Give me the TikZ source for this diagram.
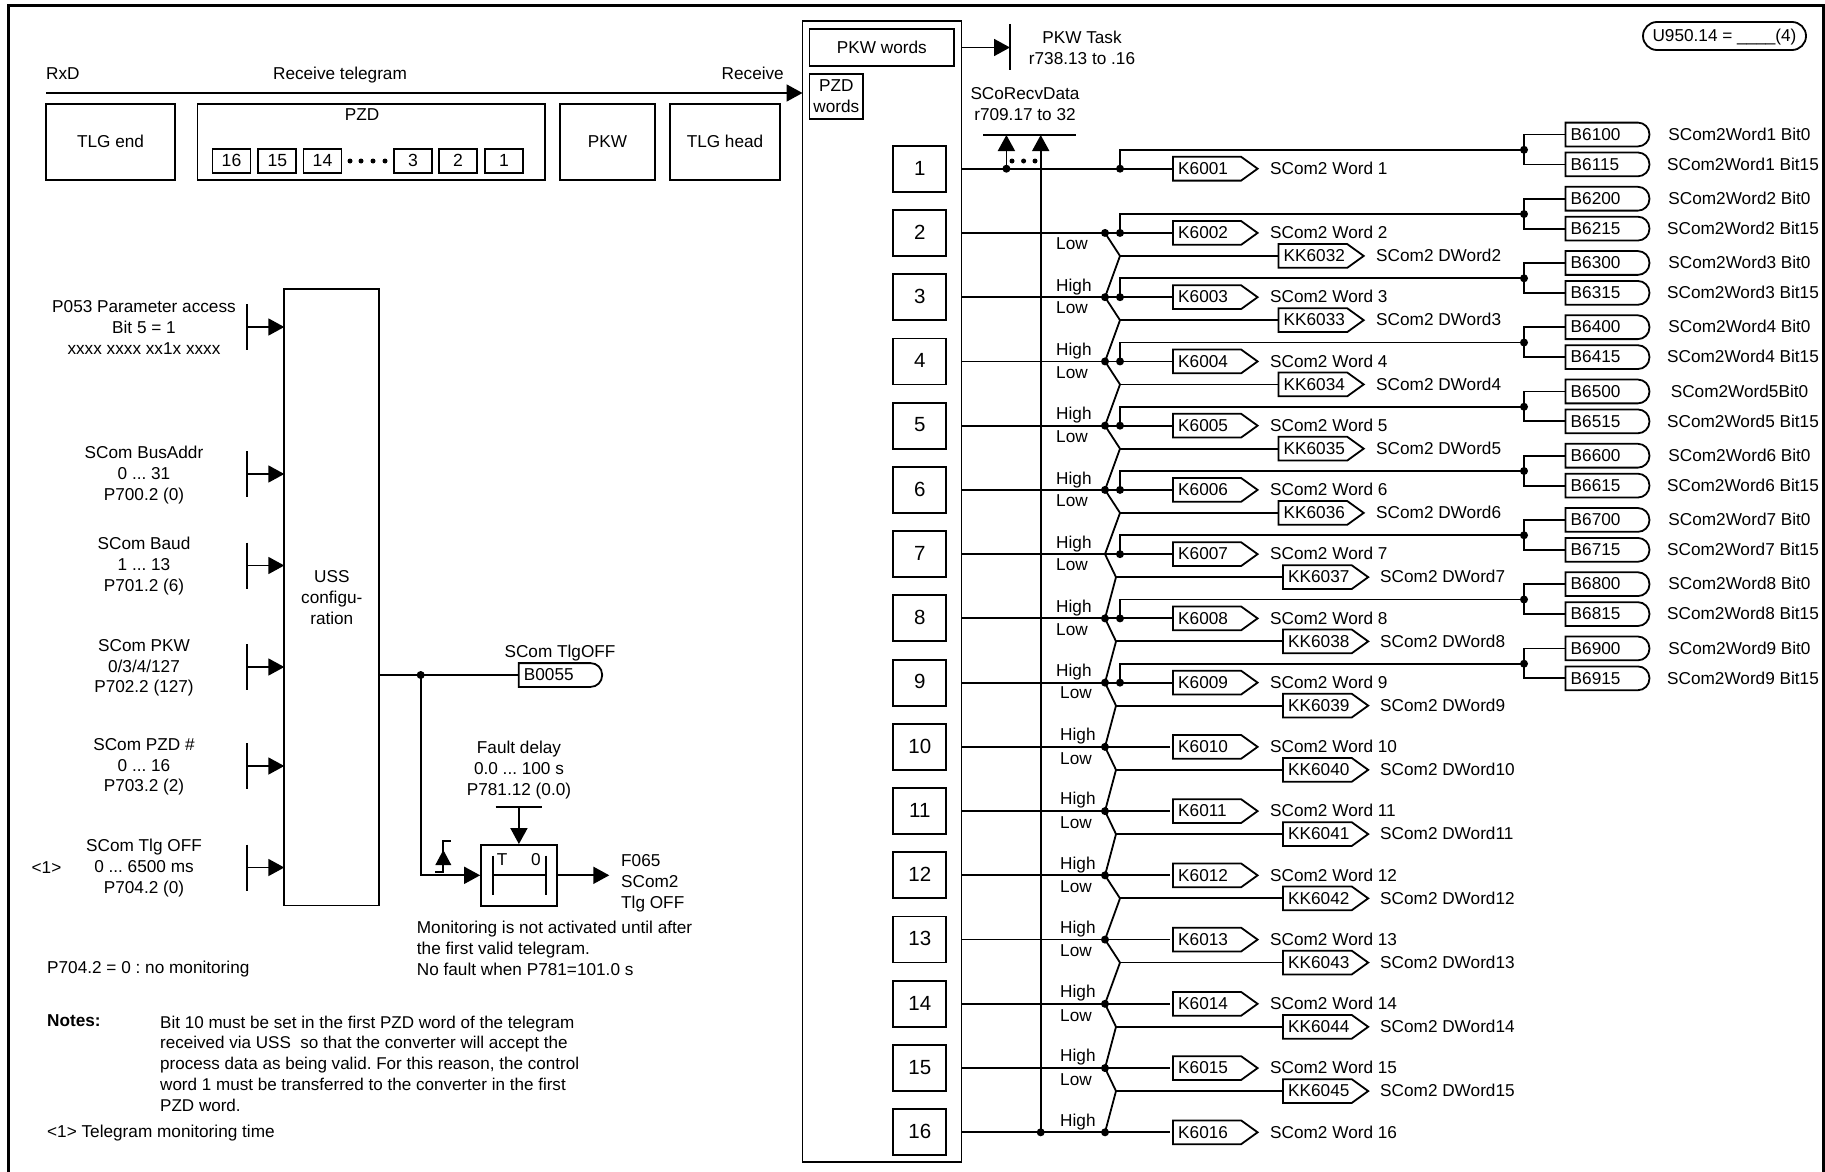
\documentclass[tikz,border=0pt]{standalone}
\usepackage{fontspec}
\setmainfont{Liberation Sans}
\usetikzlibrary{arrows.meta}
\newcommand{\fsz}{\fontsize{17.2}{20.9}\selectfont\frenchspacing}
\tikzset{
  ln/.style={line width=1.8pt,line join=miter},
  arr/.style={ln,-{Triangle[length=16pt,width=17pt]}},
  txt/.style={font=\fsz,inner sep=0pt,text height=11.4pt,text depth=0pt},
  lefttxt/.style={txt,anchor=west},
  ml/.style={font=\fsz,inner sep=0pt,align=center,yshift=-0.8pt},
  mll/.style={font=\fsz,inner sep=0pt,align=left,anchor=west,yshift=-1.2pt},
  boxn/.style={draw,ln,font=\fsz,inner sep=0pt,text height=11.4pt,text depth=0pt},
  rowbox/.style={draw,ln,font=\fontsize{20.5}{24}\selectfont,inner sep=0pt,minimum width=53pt,minimum height=46pt,text height=12.6pt,text depth=0pt},
  smallbox/.style={boxn,minimum width=38pt,minimum height=24pt,font=\fontsize{17.6}{20}\selectfont},
  tagn/.style={font=\fsz,inner sep=0pt,anchor=west,minimum height=23.4pt,text height=11.4pt,text depth=0pt,align=left},
  dot/.style={circle,fill=black,inner sep=0pt,minimum size=8pt},
  sdot/.style={circle,fill=black,inner sep=0pt,minimum size=5pt},
}
\newcommand{\KTag}[5]{% name, x, y, text, shoulder width
  \node[tagn,minimum width=#5pt,text width=#5pt,align=left] (#1) at (#2,#3) {\hspace*{5pt}#4};
  \draw[ln] (#1.south west) -- (#1.north west) -- (#1.north east) -- ([xshift=16.5pt]#1.east) -- (#1.south east) -- cycle;
}
\newcommand{\BTag}[5]{% name, x, y, text, width
  \node[tagn,minimum width=#5pt,text width=#5pt,align=left] (#1) at (#2,#3) {\hspace*{5pt}#4};
  \draw[ln] (#1.south west) -- (#1.north west) [rounded corners=11.5pt] -- (#1.north east) -- (#1.south east) [sharp corners] -- (#1.south west) -- cycle;
}
\begin{document}
\begin{tikzpicture}[x=1pt,y=-1pt]
\useasboundingbox (0,0) rectangle (1825,1172);
% frame
\draw[line width=3pt] (8.3,1172) -- (8.3,6) -- (1823.5,6) -- (1823.5,1172);

% telegram
\node[lefttxt] (rxd) at (46,74) {RxD};
\node[txt] (rcvt) at (340,74) {Receive telegram};
\node[txt,anchor=east] (rcv) at (784,74) {Receive};
\node[boxn,minimum width=129pt,minimum height=76pt] (tlgend) at (110.5,142) {TLG end};
\node[boxn,minimum width=347.5pt,minimum height=76pt] (pzd) at (371.2,142) {};
\node[txt] (pzdt) at (362,115) {PZD};
\node[boxn,minimum width=95pt,minimum height=76pt] (pkw) at (607.5,142) {PKW};
\node[boxn,minimum width=110pt,minimum height=76pt] (tlghead) at (725,142) {TLG head};
\node[smallbox] (s16) at (231.5,161) {16};
\node[smallbox] (s15) at (277.3,161) {15};
\node[smallbox] (s14) at (322.5,161) {14};
\node[smallbox] (s3) at (413,161) {3};
\node[smallbox] (s2) at (458,161) {2};
\node[smallbox] (s1) at (504,161) {1};
\foreach \x/\n in {350/a,361/b,373/c,385/d} \node[sdot] (sd\n) at (\x,161) {};

% big box
\node[draw,ln,inner sep=0pt,minimum width=159pt,minimum height=1141pt] (big) at (882,591.5) {};
\node[boxn,minimum width=144.5pt,minimum height=37pt] (pkww) at (881.8,47.5) {PKW words};
\node[draw,ln,font=\fsz,inner sep=0pt,minimum width=53.5pt,minimum height=45pt,align=center] (pzdw) at (836.3,96.5) {PZD\\words};
\coordinate (rstart) at (46,93);
\coordinate (rend) at (802.5,93);
\draw[arr] (rstart) -- (rend);

% PKW task
\coordinate (pkwbar1) at (1010,24);
\coordinate (pkwbar2) at (1010,70);
\coordinate (pkwout) at (961.5,47.5);
\coordinate (pkwtip) at (1010,47.5);
\draw[ln] (pkwbar1) -- (pkwbar2);
\draw[arr] (pkwout) -- (pkwtip);
\node[ml] (pkwtask) at (1082,47) {PKW Task\\r738.13 to .16};
\node[ml] (scorecv) at (1025,103.5) {SCoRecvData\\r709.17 to 32};
\coordinate (bar1) at (983,135);
\coordinate (bar2) at (1076,135);
\coordinate (bara) at (1006.4,135);
\coordinate (barb) at (1040.7,135);
\draw[ln] (bar1) -- (bar2);
\foreach \x/\n in {1012/a,1023.6/b,1035/c} \node[sdot] (bd\n) at (\x,161) {};

% oval
\node[draw,ln,rounded corners=14pt,font=\fsz,inner sep=0pt,minimum width=163pt,minimum height=28pt,text height=11.4pt,text depth=0pt] (uu) at (1724.5,36) {U950.14 = \_\_\_\_(4)};

% rows
\foreach \i in {1,...,16}{
  \pgfmathsetmacro{\ry}{168.7+64.24*(\i-1)}
  \node[rowbox] (r\i) at (919.8,\ry) {\i};
  \coordinate (p\i) at (961.5,\ry);
  \KTag{k\i}{1173}{\ry}{K\the\numexpr6000+\i\relax}{67.7}
  \node[lefttxt] (kl\i) at (1270,\ry) {SCom2 Word \i};
  \ifnum\i=1 \coordinate (ja\i) at (1105,\ry);
  \else\ifnum\i=7 \coordinate (ja\i) at (1105,\ry);
  \else \node[dot] (ja\i) at (1105,\ry) {};
  \fi\fi
}
% low branches and K K tags
\foreach \i/\ax/\kx/\lx in {2/1120/1278.5/1376,3/1120/1278.5/1376,4/1120/1278.5/1376,5/1120/1278.5/1376,6/1120/1278.5/1376,7/1116/1283/1380,8/1116/1283/1380,9/1116/1283/1380,10/1116/1283/1380,11/1116/1283/1380,12/1120/1283/1380,13/1120/1283/1380,14/1116/1283/1380,15/1116/1283/1380}{
  \pgfmathsetmacro{\ry}{168.7+64.24*(\i-1)}
  \pgfmathsetmacro{\ly}{\ry+23}
  \pgfmathtruncatemacro{\nx}{\i+1}
  \pgfmathtruncatemacro{\kk}{6030+\i}
  \KTag{kk\i}{\kx}{\ly}{KK\kk}{68.3}
  \node[lefttxt] (kkl\i) at (\lx,\ly) {SCom2 DWord\i};
  \coordinate (ap\i) at (\ax,\ly);
  \draw[ln] (ja\i.center) -- (ap\i) -- (ja\nx.center);
  \draw[ln] (ap\i) -- (kk\i.west);
}
% high / low labels
\foreach \i in {3,...,9}{
  \pgfmathsetmacro{\ry}{168.7+64.24*(\i-1)}
  \node[lefttxt] (hi\i) at (1056,\ry-11.5) {High};
}
\foreach \i in {2,...,8}{
  \pgfmathsetmacro{\ry}{168.7+64.24*(\i-1)}
  \node[lefttxt] (lo\i) at (1056,\ry+11) {Low};
}
\node[lefttxt] (lo9) at (1060,692.5) {Low};
\foreach \i in {10,...,16}{
  \pgfmathsetmacro{\ry}{168.7+64.24*(\i-1)}
  \node[lefttxt] (hi\i) at (1060,\ry-12) {High};
}
\foreach \i in {10,...,15}{
  \pgfmathsetmacro{\ry}{168.7+64.24*(\i-1)}
  \node[lefttxt] (lo\i) at (1060,\ry+11.5) {Low};
}
% main row lines
\foreach \i in {1,...,9}{ \draw[ln] (p\i) -- (k\i.west); }
\foreach \i in {10,...,16}{ \draw[ln] (p\i) -- ([xshift=-3pt]k\i.west); }
% bus
\node[dot] (bus1) at (1006.4,168.7) {};
\node[dot] (bus16) at (1040.7,1132.3) {};
\draw[arr] (bus1.center) -- (bara);
\draw[arr] (bus16.center) -- (barb);

% bit tags
\foreach \i/\a/\b/\la/\lb in {1/100/115/{SCom2Word1 Bit0}/{SCom2Word1 Bit15},2/200/215/{SCom2Word2 Bit0}/{SCom2Word2 Bit15},3/300/315/{SCom2Word3 Bit0}/{SCom2Word3 Bit15},4/400/415/{SCom2Word4 Bit0}/{SCom2Word4 Bit15},5/500/515/{SCom2Word5Bit0}/{SCom2Word5 Bit15},6/600/615/{SCom2Word6 Bit0}/{SCom2Word6 Bit15},7/700/715/{SCom2Word7 Bit0}/{SCom2Word7 Bit15},8/800/815/{SCom2Word8 Bit0}/{SCom2Word8 Bit15},9/900/915/{SCom2Word9 Bit0}/{SCom2Word9 Bit15}}{
  \pgfmathsetmacro{\ry}{168.7+64.24*(\i-1)}
  \pgfmathsetmacro{\ya}{\ry-34.2}
  \pgfmathsetmacro{\yb}{\ry-4.3}
  \pgfmathsetmacro{\yc}{\ry-18.9}
  \pgfmathtruncatemacro{\na}{6000+\a}
  \pgfmathtruncatemacro{\nb}{6000+\b}
  \BTag{ba\i}{1565.5}{\ya}{B\na}{83.5}
  \BTag{bb\i}{1565.5}{\yb}{B\nb}{83.5}
  \node[txt] (bla\i) at (1739.5,\ya) {\la};
  \node[txt] (blb\i) at (1743,\yb) {\lb};
  \node[dot] (jc\i) at (1524,\yc) {};
  \node[dot] (jb\i) at (1120,\ry) {};
  \coordinate (cn\i) at (1120,\yc);
  \draw[ln] (jb\i.center) -- (cn\i) -- (jc\i.center);
  \draw[ln] (ba\i.west) -| (jc\i.center);
  \draw[ln] (bb\i.west) -| (jc\i.center);
}

% left inputs
\node[draw,ln,inner sep=0pt,minimum width=95pt,minimum height=616.5pt] (uss) at (331.8,597.3) {};
\node[ml] (usst) at (331.8,597) {USS\\configu-\\ration};
\foreach \n/\y/\t in {a/327/{P053 Parameter access\\Bit 5 = 1\\xxxx xxxx xx1x xxxx},b/474/{SCom BusAddr\\0 ... 31\\P700.2 (0)},c/565.5/{SCom Baud\\1 ... 13\\P701.2 (6)},d/667/{SCom PKW\\0/3/4/127\\P702.2 (127)},e/766/{SCom PZD \#\\0 ... 16\\P703.2 (2)},f/867.5/{SCom Tlg OFF\\0 ... 6500 ms\\P704.2 (0)}}{
  \node[ml] (in\n) at (144,\y) {\t};
  \coordinate (inb\n) at (247,\y);
  \coordinate (intop\n) at (247,\y-23);
  \coordinate (inbot\n) at (247,\y+23);
  \coordinate (intip\n) at (284.3,\y);
  \draw[ln] (intop\n) -- (inbot\n);
  \draw[arr] (inb\n) -- (intip\n);
}
\node[lefttxt] (one) at (31.5,867.5) {<1>};
\node[lefttxt] (nomon) at (47,968) {P704.2 = 0 : no monitoring};
\node[lefttxt,font=\fsz\bfseries] (notes) at (47,1021) {Notes:};
\node[mll,font=\fontsize{17.05}{20.9}\selectfont\frenchspacing] (para) at (160,1062.5) {Bit 10 must be set in the first PZD word of the telegram\\received via USS\ \ so that the converter will accept the\\process data as being valid. For this reason, the control\\word 1 must be transferred to the converter in the first\\PZD word.};
\node[lefttxt] (tm) at (47,1132) {<1> Telegram monitoring time};

% B0055 and timer
\node[dot] (jo) at (420.7,675) {};
\BTag{b55}{518.7}{675}{B0055}{83}
\node[txt] (b55t) at (560,651.7) {SCom TlgOFF};
\draw[ln] (uss.east |- jo) -- (b55.west);
\node[ml] (fd) at (519,769.5) {Fault delay\\0.0 ... 100 s\\P781.12 (0.0)};
\node[draw,ln,inner sep=0pt,minimum width=75.7pt,minimum height=60.7pt] (tim) at (518.9,875.3) {};
\coordinate (fb1) at (495.7,807.3);
\coordinate (fb2) at (542.3,807.3);
\coordinate (fbm) at (519,807.3);
\draw[ln] (fb1) -- (fb2);
\draw[arr] (fbm) -- (tim.north);
\draw[arr] (jo.center) |- (tim.west);
\coordinate (tb1) at (492.7,855.7);
\coordinate (tb2) at (492.7,895);
\coordinate (tb3) at (545.7,855.7);
\coordinate (tb4) at (545.7,895);
\coordinate (tm1) at (492.7,875.3);
\coordinate (tm2) at (545.7,875.3);
\draw[ln] (tb1) -- (tb2) (tb3) -- (tb4) (tm1) -- (tm2);
\node[txt] (tt) at (502,860) {T};
\node[txt] (t0) at (536,860) {0};
\coordinate (fout) at (609.3,875.3);
\draw[arr] (tim.east) -- (fout);
\node[mll] (f065) at (621,882) {F065\\SCom2\\Tlg OFF};
\coordinate (eb) at (435,871.7);
\coordinate (ec) at (443.3,871.7);
\coordinate (ed) at (443.3,841.3);
\coordinate (ee) at (451.3,841.3);
\draw[ln] (eb) -- (ec) -- (ed) -- (ee);
\fill (435.3,865) -- (451.3,865) -- (443.3,850) -- cycle;
\node[mll] (mon) at (416.7,947.5) {Monitoring is not activated until after\\the first valid telegram.\\No fault when P781=101.0 s};
\end{tikzpicture}
\end{document}
